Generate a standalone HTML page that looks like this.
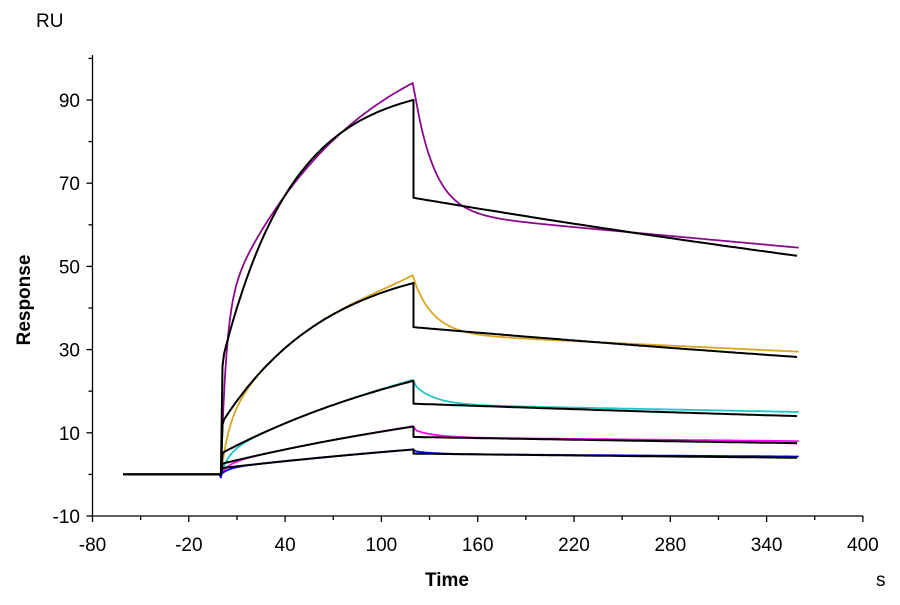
<!DOCTYPE html>
<html><head><style>
body{margin:0;background:#fff;}
svg text{font-family:"Liberation Sans",Arial,sans-serif;}
</style></head><body>
<svg id="s" width="900" height="600" xmlns="http://www.w3.org/2000/svg">
<rect width="900" height="600" fill="#fff"/>
<g id="axes" stroke="#000" stroke-width="1.3" fill="none"></g>
<g id="labels" font-size="19" fill="#000"></g>
<text x="36" y="27" font-size="19">RU</text>
<text transform="translate(30,300) rotate(-90)" font-size="19" font-weight="bold" text-anchor="middle">Response</text>
<text x="447" y="586" font-size="19" font-weight="bold" text-anchor="middle">Time</text>
<text x="876" y="586" font-size="19">s</text>
<g id="curves" fill="none" stroke-linejoin="round"></g>
</svg>
<script>
var NS="http://www.w3.org/2000/svg";
function X(t){return 92.5+(t+80)*1.605;}
function Y(v){return 516-(v+10)*4.16;}
var ax=document.getElementById('axes'),lb=document.getElementById('labels'),cv=document.getElementById('curves');
function el(p,tag,a,txt){var e=document.createElementNS(NS,tag);for(var k in a)e.setAttribute(k,a[k]);if(txt!==undefined)e.textContent=txt;p.appendChild(e);return e;}
el(ax,'line',{x1:92.5,y1:55,x2:92.5,y2:516});
el(ax,'line',{x1:92.5,y1:516,x2:863,y2:516});
for(var t=-80;t<=400;t+=30){var maj=((t+80)%60==0);el(ax,'line',{x1:X(t),y1:516,x2:X(t),y2:516+(maj?6:4)});
 if(maj)el(lb,'text',{x:X(t),y:551,'text-anchor':'middle'},t);}
for(var v=-10;v<=100;v+=10){var maj=((v+10)%20==0);if(Y(v)<55)continue;el(ax,'line',{x1:92.5,y1:Y(v),x2:92.5-(maj?6:4),y2:Y(v)});
 if(maj)el(lb,'text',{x:80,y:Y(v)+7,'text-anchor':'end'},v);}
function path(pts,col,w){var d='';pts.forEach(function(p,i){d+=(i?'L':'M')+X(p[0]).toFixed(1)+','+Y(p[1]).toFixed(1);});el(cv,'path',{d:d,stroke:col,'stroke-width':w});}
var S=[
 {J:26,E:90,k:0.023,D:66.5,F:52.5,col:'#8b0a8b',pk:94.5,d0:89,dend:54.5},
 {J:12,E:46,k:0.015,D:35.4,F:28.2,col:'#daa520',pk:48,d0:45,dend:29.5},
 {J:5,E:22.5,k:0.006,D:17,F:14,col:'#1ec8c8',pk:22.8,d0:21,dend:15},
 {J:2.5,E:11.5,k:0.004,D:9,F:7.5,col:'#ff00ff',pk:11.6,d0:10.5,dend:8},
 {J:1.5,E:6,k:0.003,D:5,F:4,col:'#0000ff',pk:6,d0:5.5,dend:4.3}
];
S.forEach(function(s,i){
 var A=(s.E-s.J)/(1-Math.exp(-s.k*120));
 function fa(t){return s.J+A*(1-Math.exp(-s.k*t));}
 var p=[[-61,0],[-1,0],[0,-0.7]];
 if(i==0){for(var t=0.5;t<=120;t+=1){p.push([t,40*(1-Math.exp(-0.3*t))+71*(1-Math.exp(-0.012*t))]);}}
 else{for(var t=0.5;t<=120;t+=1){p.push([t,fa(t)-s.J*Math.exp(-t/5)+(s.pk-s.E)*Math.pow(t/120,6)]);}}
 var L0=s.dend+(s.D-s.F)*0.6, sl=(L0-s.dend)/238;
 for(var t=122;t<=360;t+=1){p.push([t,L0-(t-122)*sl+(s.d0-L0)*Math.exp(-0.08*(t-122))]);}
 path(p,s.col,1.8);
});
S.forEach(function(s){
 var A=(s.E-s.J)/(1-Math.exp(-s.k*120));
 var kd=Math.log(s.D/s.F)/240;
 var p=[[-61,0],[0,0],[1,s.J]];
 for(var t=2;t<=120;t+=1)p.push([t,s.J+A*(1-Math.exp(-s.k*t))]);
 p.push([120,s.D]);
 for(var t=121;t<=360;t+=2)p.push([t,s.D*Math.exp(-kd*(t-120))]);
 path(p,'#000',2);
});
</script>
</body></html>
